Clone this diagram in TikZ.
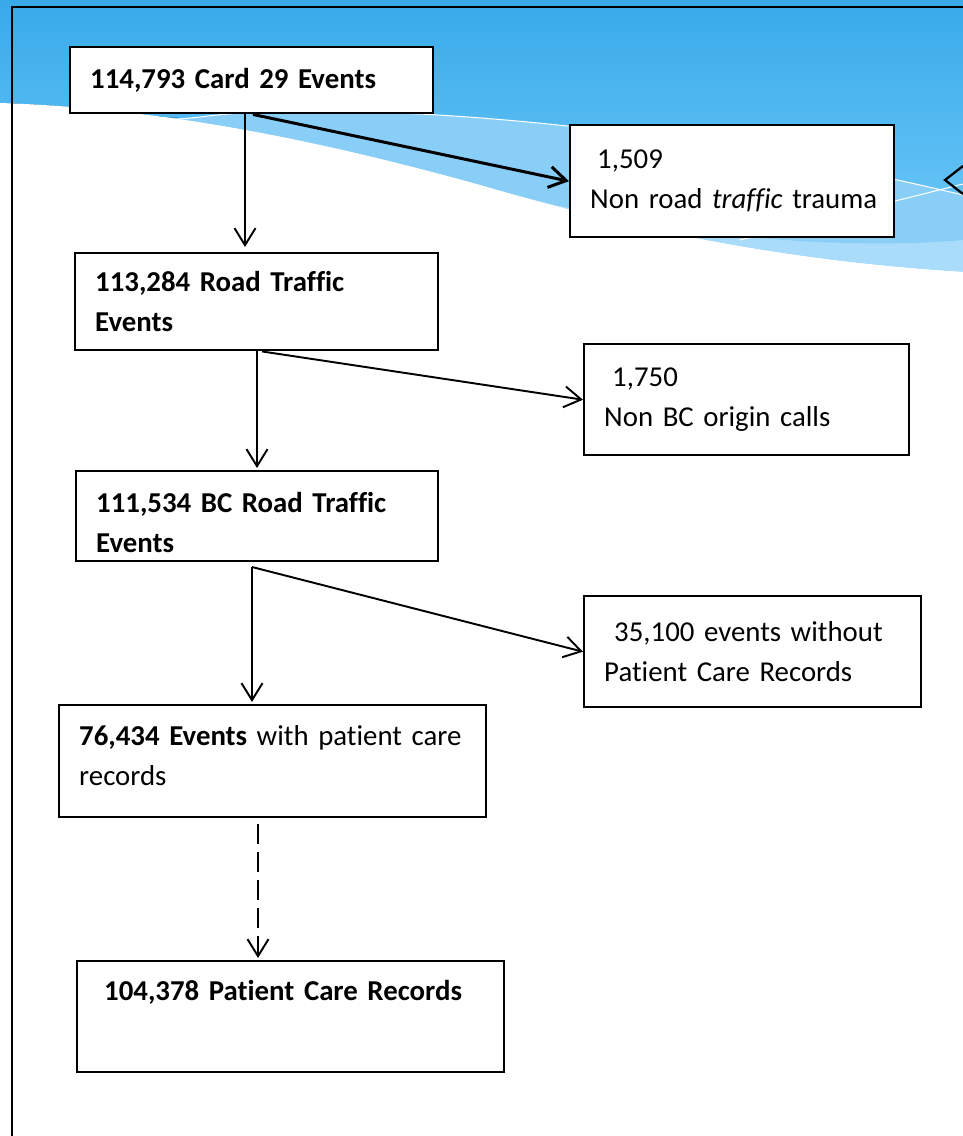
\documentclass[tikz,border=0pt]{standalone}
\usepackage{fontspec}
\setmainfont{Carlito}[Ligatures=NoCommon,WordSpace=0.85]
\usetikzlibrary{arrows.meta}
\definecolor{skytop}{HTML}{38AAE9}
\definecolor{skylow}{HTML}{62C2F5}
\definecolor{bandlight}{HTML}{88CEF7}
\definecolor{bandpale}{HTML}{A8DCFA}
\begin{document}
\begin{tikzpicture}[x=0.02cm,y=-0.02cm,font=\fontsize{16.4pt}{22.8pt}\selectfont,
	box/.style={draw,line width=1.4pt,fill=white,anchor=north west,align=left,inner xsep=0.4cm,inner ysep=0pt},
	arr/.style={line width=1.1pt,-{Straight Barb[length=0.34cm,width=0.42cm]}}]
	\useasboundingbox (0,0) rectangle (963,1136);
	\begin{scope}%背景波浪
		\clip (0,0) rectangle (963,1136);
		\fill[bandpale] (0,0)--(0,103) .. controls (150,108) and (300,135) .. (480,185) .. controls (650,235) and (800,262) .. (963,272)--(963,0)--cycle;
		\fill[bandlight] (0,0)--(0,103) .. controls (150,108) and (300,135) .. (480,185) .. controls (640,232) and (820,252) .. (963,240)--(963,0)--cycle;
		\fill[top color=skytop,bottom color=skylow] (0,0)--(0,103) .. controls (100,106) and (170,122) .. (200,117) .. controls (300,103) and (600,108) .. (963,195)--(963,0)--cycle;
		\fill[white] (0,103) .. controls (150,108) and (300,135) .. (480,185) .. controls (650,235) and (800,262) .. (963,272)--(963,1136)--(0,1136)--cycle;
		\draw[white,line width=0.6pt] (165,121) .. controls (180,119) .. (200,117) .. controls (300,103) and (600,108) .. (963,195);
		\draw[white,line width=0.6pt] (740,240)--(963,184);
		\draw[line width=1.3pt] (963,166)--(945,180)--(963,194);
	\end{scope}
	\draw[line width=1.6pt] (12,1140)--(12,7)--(970,7);%外框
	% 方框
	\node[box,text width=6.46cm,minimum height=1.32cm] (card) at(69,46) {\textbf{114,793 Card 29 Events}};
	\node[box,text width=5.68cm,minimum height=2.24cm] (trauma) at(569,124) {\hspace*{0.14cm}1,509\\\mbox{Non road \textit{traffic} trauma}};
	\node[box,text width=6.46cm,minimum height=1.94cm] (road) at(74,252) {\textbf{113,284 Road Traffic}\\\textbf{Events}};
	\node[box,text width=5.70cm,minimum height=2.22cm] (nonbc) at(583,343) {\hspace*{0.16cm}1,750\\Non BC origin calls};
	\node[box,text width=6.44cm,minimum height=1.80cm] (bcroad) at(75,470) {\mbox{}\\[-0.16cm]\textbf{111,534 BC Road Traffic}\\\textbf{Events}};
	\node[box,text width=5.94cm,minimum height=2.22cm] (nopcr) at(583,595) {\hspace*{0.2cm}\mbox{35,100 events without}\\\mbox{Patient Care Records}};
	\node[box,text width=7.74cm,minimum height=2.24cm] (withpcr) at(58,704) {\mbox{\textbf{76,434 Events} with patient care}\\records\\[-0.56cm]\mbox{}};
	\node[box,text width=7.74cm,minimum height=2.22cm] (pcr) at(76,960) {\hspace*{0.14cm}\textbf{104,378 Patient Care Records}\\[0.24cm]\mbox{}};
	% 箭头
	\coordinate (fork) at(252,567);
	\draw[arr] (card.south -| 245,0)--([yshift=0.1cm]road.north -| 245,0);
	\draw[arr,line width=1.7pt] (card.south -| 253,0)--(trauma.west);
	\draw[arr] (road.south -| 257,0)--([yshift=0.04cm]bcroad.north -| 257,0);
	\draw[arr] (road.south -| 262,0)--(nonbc.west);
	\draw[arr] (fork)--([yshift=0.04cm]withpcr.north -| fork);
	\draw[arr] (fork)--(nopcr.west);
	\draw[arr,dash pattern=on 0.4cm off 0.16cm] ([yshift=-0.12cm]withpcr.south -| 258,0)--([yshift=0.04cm]pcr.north -| 258,0);
\end{tikzpicture}
\end{document}
